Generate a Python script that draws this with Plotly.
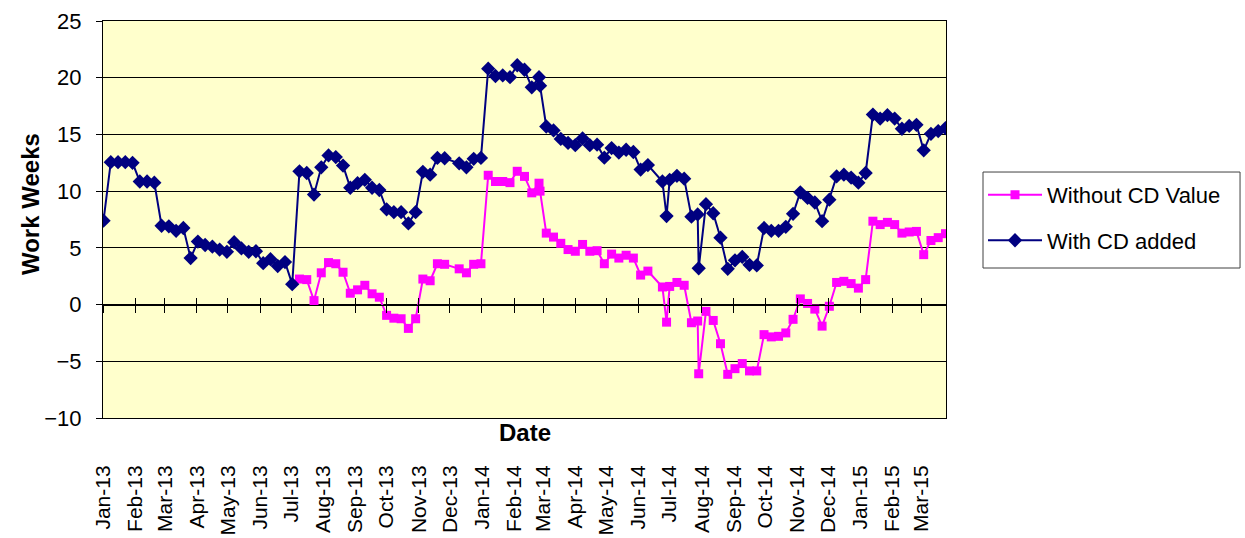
import plotly.graph_objects as go

# ---------------- data ----------------
dates = [
    "2013-01-01", "2013-01-08", "2013-01-15", "2013-01-22", "2013-01-29",
    "2013-02-05", "2013-02-12", "2013-02-19", "2013-02-26",
    "2013-03-05", "2013-03-12", "2013-03-19", "2013-03-26",
    "2013-04-02", "2013-04-09", "2013-04-16", "2013-04-23", "2013-04-30",
    "2013-05-07", "2013-05-14", "2013-05-21", "2013-05-28",
    "2013-06-04", "2013-06-11", "2013-06-18", "2013-06-25",
    "2013-07-02", "2013-07-09", "2013-07-16", "2013-07-23", "2013-07-30",
    "2013-08-06", "2013-08-13", "2013-08-20", "2013-08-27",
    "2013-09-03", "2013-09-10", "2013-09-17", "2013-09-24",
    "2013-10-01", "2013-10-08", "2013-10-15", "2013-10-22", "2013-10-29",
    "2013-11-05", "2013-11-12", "2013-11-19", "2013-11-26",
    "2013-12-10", "2013-12-17", "2013-12-24", "2013-12-31",
    "2014-01-07", "2014-01-14", "2014-01-21", "2014-01-28",
    "2014-02-04", "2014-02-11", "2014-02-18", "2014-02-25", "2014-02-26",
    "2014-03-04", "2014-03-11", "2014-03-18", "2014-03-25",
    "2014-04-01", "2014-04-08", "2014-04-15", "2014-04-22", "2014-04-29",
    "2014-05-06", "2014-05-13", "2014-05-20", "2014-05-27",
    "2014-06-03", "2014-06-10", "2014-06-24", "2014-06-28",
    "2014-07-01", "2014-07-08", "2014-07-15", "2014-07-22", "2014-07-28", "2014-07-29",
    "2014-08-05", "2014-08-12", "2014-08-19", "2014-08-26",
    "2014-09-02", "2014-09-09", "2014-09-16", "2014-09-23", "2014-09-30",
    "2014-10-07", "2014-10-14", "2014-10-21", "2014-10-28",
    "2014-11-04", "2014-11-11", "2014-11-18", "2014-11-25",
    "2014-12-02", "2014-12-09", "2014-12-16", "2014-12-23", "2014-12-30",
    "2015-01-06", "2015-01-13", "2015-01-20", "2015-01-27",
    "2015-02-03", "2015-02-10", "2015-02-17", "2015-02-24",
    "2015-03-03", "2015-03-10", "2015-03-17", "2015-03-24",
]

with_cd_added = [
    7.4, 12.55, 12.55, 12.55, 12.5, 10.85, 10.85, 10.75, 6.95,
    6.9, 6.5, 6.75, 4.1, 5.55, 5.25, 5.1, 4.85, 4.65,
    5.5, 4.95, 4.65, 4.7, 3.65, 4.0, 3.4, 3.75,
    1.8, 11.75, 11.6, 9.7, 12.1, 13.15, 13.0, 12.25, 10.3,
    10.7, 11.0, 10.3, 10.1, 8.4, 8.15, 8.15, 7.15, 8.15,
    11.7, 11.45, 12.93, 12.9,
    12.45, 12.1, 12.85, 12.93,
    20.8, 20.15, 20.2, 20.05, 21.1, 20.7, 19.15, 20.05, 19.3,
    15.7, 15.35, 14.6, 14.25, 14.05, 14.65, 14.05, 14.1, 12.95,
    13.8, 13.4, 13.65, 13.45, 11.9, 12.3, 10.85, 7.8,
    11.0, 11.35, 11.1, 7.75, 7.95, 3.2,
    8.85, 8.05, 5.9, 3.15, 3.9, 4.2, 3.5, 3.45, 6.75,
    6.5, 6.5, 6.85, 8.0, 9.9, 9.4, 9.0, 7.35,
    9.25, 11.3, 11.45, 11.2, 10.75, 11.6,
    16.75, 16.4, 16.7, 16.4, 15.5, 15.75, 15.85, 13.6,
    15.05, 15.3, 15.55,
]

without_cd_value = [
    None, None, None, None, None, None, None, None, None,
    None, None, None, None, None, None, None, None, None,
    None, None, None, None, None, None, None, None,
    None, 2.25, 2.2, 0.35, 2.8, 3.7, 3.6, 2.85, 1.0,
    1.3, 1.7, 0.95, 0.65, -0.95, -1.2, -1.25, -2.1, -1.25,
    2.25, 2.1, 3.6, 3.55,
    3.15, 2.8, 3.55, 3.6,
    11.4, 10.85, 10.85, 10.75, 11.75, 11.3, 9.85, 10.7, 10.0,
    6.3, 5.95, 5.4, 4.85, 4.7, 5.3, 4.7, 4.75, 3.6,
    4.45, 4.1, 4.35, 4.1, 2.6, 2.95, 1.55, -1.55,
    1.6, 1.95, 1.7, -1.6, -1.45, -6.1,
    -0.6, -1.4, -3.45, -6.15, -5.65, -5.2, -5.85, -5.85, -2.65,
    -2.85, -2.8, -2.5, -1.3, 0.5, 0.1, -0.4, -1.9,
    -0.15, 1.95, 2.05, 1.85, 1.45, 2.2,
    7.35, 7.05, 7.25, 7.05, 6.3, 6.4, 6.45, 4.4,
    5.65, 5.9, 6.25,
]

series_names = ["Without CD Value", "With CD added"]
x_range = ["2012-12-31 12:00", "2015-03-24 12:00"]
y_range = [-10, 25]

FONT = "Liberation Sans, Arial, sans-serif"

fig = go.Figure()

fig.add_trace(go.Scatter(
    x=dates, y=without_cd_value, name=series_names[0], mode="lines+markers",
    line=dict(color="#FF00FF", width=2),
    marker=dict(symbol="square", size=9, color="#FF00FF"),
    legendgroup="a", connectgaps=False,
))
fig.add_trace(go.Scatter(
    x=dates, y=with_cd_added, name=series_names[1], mode="lines+markers",
    line=dict(color="#000080", width=2),
    marker=dict(symbol="diamond", size=11, color="#000080"),
    legendgroup="b",
))

# invisible carriers for the crossing tick marks on the zero line
for ax in ("x2", "x3"):
    fig.add_trace(go.Scatter(
        x=dates, y=with_cd_added, xaxis=ax, yaxis="y", mode="lines",
        line=dict(width=0), opacity=0, showlegend=False, hoverinfo="skip",
    ))

zero_pos = (0 - y_range[0]) / (y_range[1] - y_range[0])

fig.update_layout(
    width=1245, height=538,
    margin=dict(l=103, r=299, t=21, b=120, pad=0, autoexpand=False),
    paper_bgcolor="white",
    plot_bgcolor="#FFFFCC",
    font=dict(family=FONT, size=22, color="black"),
    showlegend=True,
    legend=dict(
        x=1.0439, y=0.615, xanchor="left", yanchor="top",
        bgcolor="rgba(0,0,0,0)", borderwidth=0,
        font=dict(family=FONT, size=22, color="black"),
        tracegroupgap=14, itemwidth=54,
    ),
    # legend frame (wider than plotly's auto-sized legend box)
    shapes=[
        dict(type="rect", xref="paper", yref="paper",
             x0=1.0439, x1=1.3488, y0=0.3778, y1=0.6196,
             fillcolor="white", line=dict(color="#404040", width=1),
             layer="below"),
    ],
    xaxis=dict(
        type="date", range=x_range, automargin=False,
        tick0="2013-01-01", dtick="M1", tickformat="%b-%y",
        tickangle=-90, ticks="outside", ticklen=38,
        tickcolor="rgba(0,0,0,0)",
        tickfont=dict(family=FONT, size=21, color="black"),
        showgrid=False, zeroline=False,
        showline=True, linecolor="black", linewidth=1, mirror=True,
    ),
    xaxis2=dict(
        type="date", overlaying="x", matches="x", anchor="free",
        position=zero_pos, tick0="2013-01-01", dtick="M1", automargin=False,
        ticks="outside", ticklen=7, tickcolor="black", tickwidth=1,
        showticklabels=False, showgrid=False, zeroline=False,
        showline=True, linecolor="black", linewidth=1,
    ),
    xaxis3=dict(
        type="date", overlaying="x", matches="x", anchor="free",
        position=zero_pos, tick0="2013-01-01", dtick="M1", automargin=False,
        ticks="inside", ticklen=7, tickcolor="black", tickwidth=1,
        showticklabels=False, showgrid=False, zeroline=False,
        showline=False,
    ),
    yaxis=dict(
        range=y_range, dtick=5, tick0=0, automargin=False,
        ticks="outside", ticklen=6, tickcolor="black",
        tickfont=dict(family=FONT, size=22, color="black"),
        ticklabelstandoff=10,
        showgrid=True, gridcolor="black", gridwidth=1,
        zeroline=False,
        showline=True, linecolor="black", linewidth=1, mirror=True,
    ),
    annotations=[
        dict(text="<b>Work Weeks</b>", xref="paper", yref="paper",
             x=-0.0866, y=0.539, textangle=-90, showarrow=False,
             xanchor="center", yanchor="middle",
             font=dict(family=FONT, size=24, color="black")),
        dict(text="<b>Date</b>", xref="paper", yref="paper",
             x=0.5006, y=-0.0353, showarrow=False,
             xanchor="center", yanchor="middle",
             font=dict(family=FONT, size=24, color="black")),
    ],
)

fig.write_html(
    "out.html",
    config={"displayModeBar": False},
    post_script="document.body.style.margin='0';document.body.style.padding='0';",
)
